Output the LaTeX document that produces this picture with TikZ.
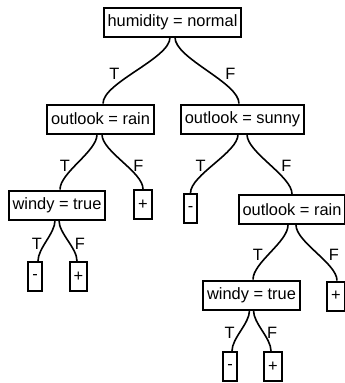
\documentclass[tikz,border=0pt]{standalone}
\usepackage{fontspec}
\setmainfont{Liberation Sans}
\begin{document}
\begin{tikzpicture}[x=1pt,y=-1pt,
  box/.style={draw, line width=2pt, minimum height=29pt, inner xsep=4pt, inner ysep=0pt, font=\fontsize{16.4}{19}\selectfont},
  lab/.style={font=\fontsize{16.4}{19}\selectfont, inner sep=0pt},
  br/.style={line width=1.6pt}]
\useasboundingbox (0,0) rectangle (345,383);
% nodes
\node[box] (root)   at (172.5,22)  {humidity = normal};
\node[box] (rainL)  at (100.5,119) {outlook = rain};
\node[box] (sunny)  at (242.5,119) {outlook = sunny};
\node[box] (windyL) at (57,205)    {windy = true};
\node[box] (plusL)  at (143,204.5) {+};
\node[box] (minusS) at (190.5,208.5) {-};
\node[box] (rainR)  at (292,209.5) {outlook = rain};
\node[box] (minusLL) at (35,276.5) {-};
\node[box] (plusLL)  at (78.5,276.5) {+};
\node[box] (windyR)  at (251.5,295) {windy = true};
\node[box] (plusR)   at (336,296) {+};
\node[box] (minusRR) at (230,366.5) {-};
\node[box] (plusRR)  at (273,366.5) {+};
% edges
\draw[br] ([xshift=-2.5pt]root.south) .. controls +(0,21) and +(0,-21) .. ([xshift=2.5pt]rainL.north)
  node[lab,pos=.5,xshift=-22pt,yshift=-3pt]{T};
\draw[br] ([xshift=2.5pt]root.south) .. controls +(0,21) and +(0,-21) .. ([xshift=-3.5pt]sunny.north)
  node[lab,pos=.5,xshift=23.5pt,yshift=-3pt]{F};
\draw[br] ([xshift=-3.5pt]rainL.south) .. controls +(0,17) and +(0,-17) .. ([xshift=3pt]windyL.north)
  node[lab,pos=.5,xshift=-13.5pt,yshift=-4pt]{T};
\draw[br] ([xshift=1.5pt]rainL.south) .. controls +(0,17) and +(0,-17) .. (plusL.north)
  node[lab,pos=.5,xshift=16pt,yshift=-4.5pt]{F};
\draw[br] ([xshift=-4.5pt]sunny.south) .. controls +(0,18) and +(0,-18) .. (minusS.north)
  node[lab,pos=.5,xshift=-13.5pt,yshift=-2pt]{T};
\draw[br] ([xshift=4.5pt]sunny.south) .. controls +(0,18) and +(0,-18) .. (rainR.north)
  node[lab,pos=.5,xshift=17pt,yshift=-1.5pt]{F};
\draw[br] ([xshift=-2pt]windyL.south) .. controls +(0,13) and +(0,-13) .. ([xshift=3pt]minusLL.north)
  node[lab,pos=.5,xshift=-9.5pt,yshift=-3.5pt]{T};
\draw[br] ([xshift=2pt]windyL.south) .. controls +(0,13) and +(0,-13) .. ([xshift=-1.5pt]plusLL.north)
  node[lab,pos=.5,xshift=12pt,yshift=-3.5pt]{F};
\draw[br] ([xshift=-4pt]rainR.south) .. controls +(0,17) and +(0,-17) .. ([xshift=1.5pt]windyR.north)
  node[lab,pos=.5,xshift=-12.5pt,yshift=-3pt]{T};
\draw[br] ([xshift=4pt]rainR.south) .. controls +(0,17) and +(0,-17) .. ([xshift=1pt]plusR.north)
  node[lab,pos=.5,xshift=17.5pt,yshift=-2.5pt]{F};
\draw[br] ([xshift=-2pt]windyR.south) .. controls +(0,13) and +(0,-13) .. ([xshift=2pt]minusRR.north)
  node[lab,pos=.5,xshift=-11pt,yshift=-2.5pt]{T};
\draw[br] ([xshift=2pt]windyR.south) .. controls +(0,13) and +(0,-13) .. ([xshift=-2pt]plusRR.north)
  node[lab,pos=.5,xshift=10pt,yshift=-2.5pt]{F};
\end{tikzpicture}
\end{document}
